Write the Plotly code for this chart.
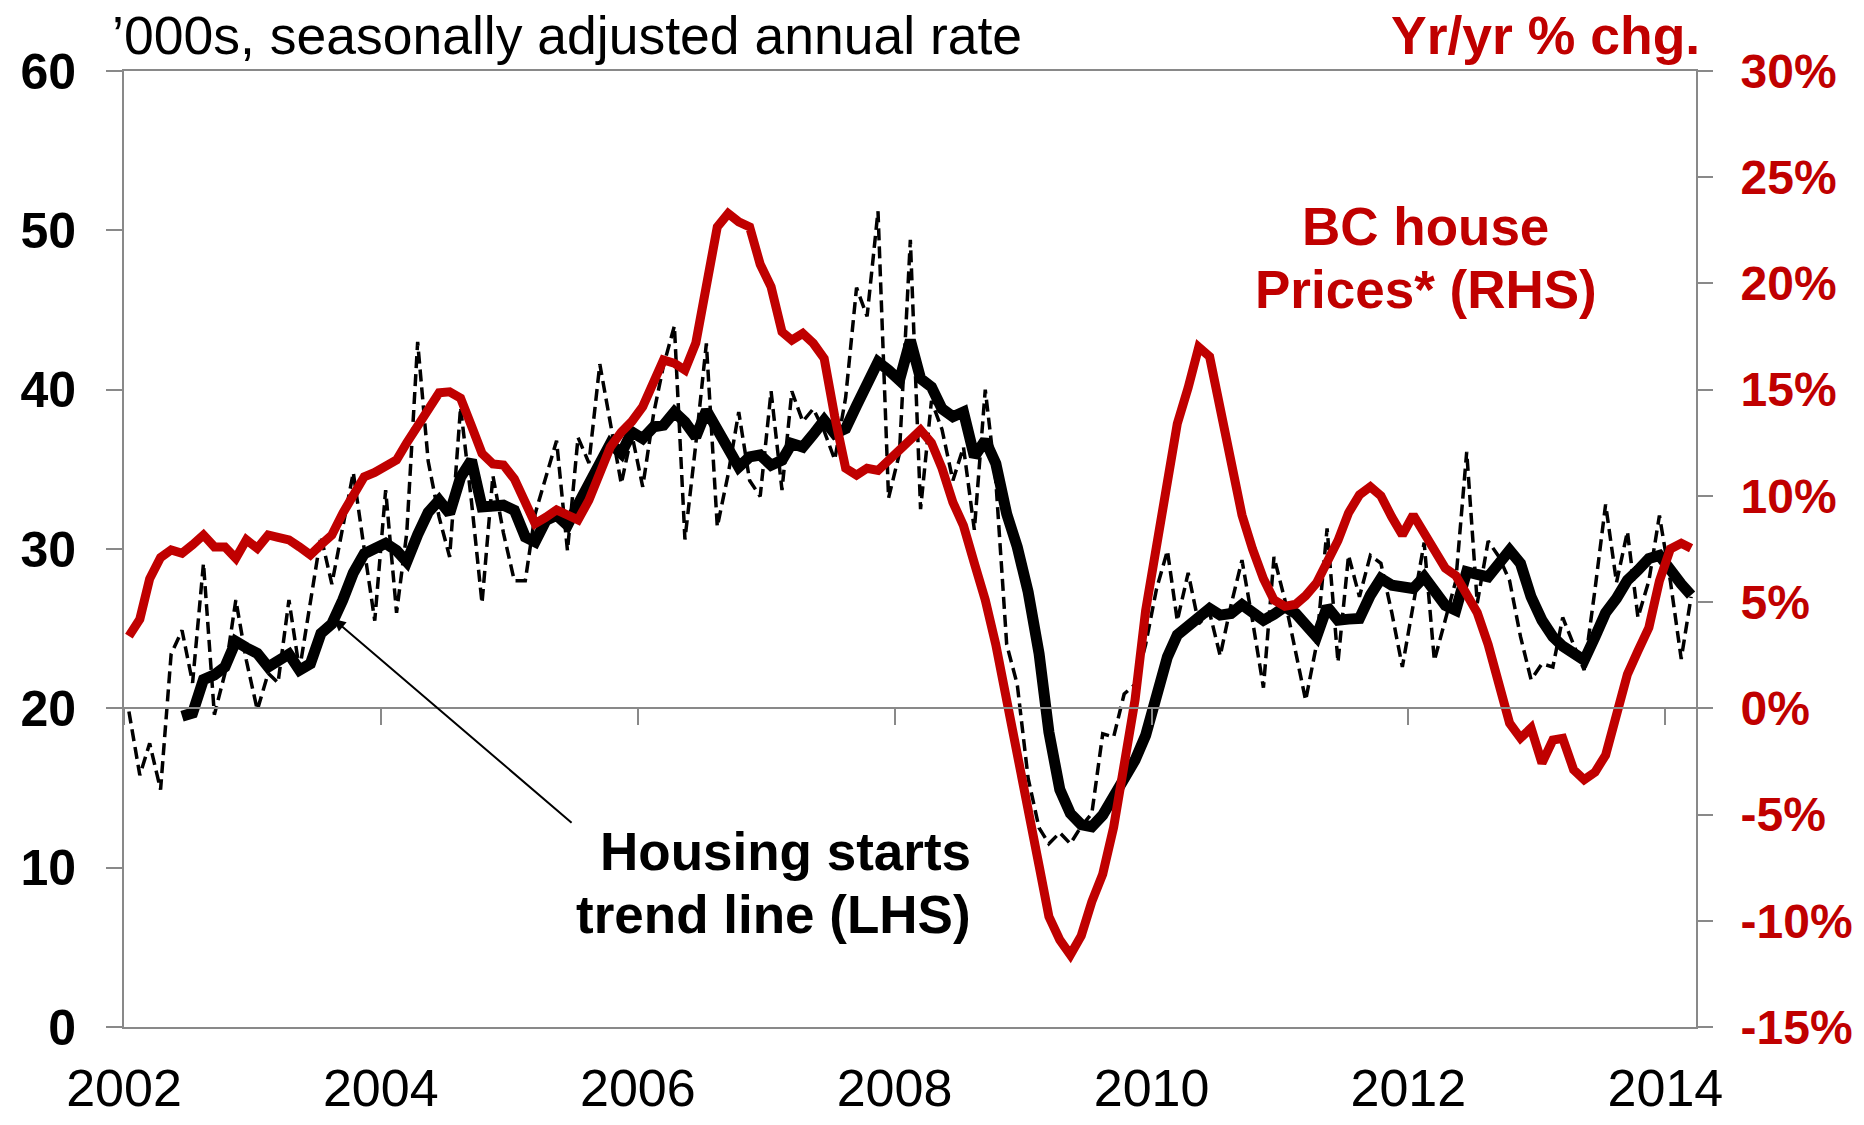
import pandas as pd
import plotly.graph_objects as go

# ---- data (monthly, Jan 2002 - Mar 2014) ----
months = pd.date_range("2002-01-01", periods=147, freq="MS") + pd.Timedelta(days=14)

starts = [
    19.8, 15.8, 17.8, 14.9, 23.4, 24.9, 21.6, 29.1, 19.6, 22.2,
    26.8, 23.0, 19.9, 22.2, 21.6, 26.8, 22.4, 26.5, 30.8, 27.8,
    31.3, 34.8, 30.0, 25.5, 33.7, 26.0, 31.0, 43.0, 35.5, 32.0,
    29.5, 38.9, 33.0, 26.6, 34.6, 31.0, 28.0, 28.0, 32.2, 34.5,
    36.8, 29.9, 37.0, 35.4, 41.6, 37.9, 34.1, 37.2, 33.9, 38.5,
    41.5, 44.0, 30.6, 36.6, 42.9, 31.4, 34.7, 38.6, 34.3, 33.3,
    39.9, 33.7, 39.9, 38.0, 38.8, 37.4, 35.6, 39.5, 46.4, 44.6,
    51.2, 33.2, 36.0, 49.4, 32.5, 39.3, 37.5, 34.3, 36.4, 31.2,
    40.0, 34.3, 24.0, 21.5, 15.6, 12.5, 11.5, 12.2, 11.5, 12.6,
    13.4, 18.4, 18.2, 20.9, 21.5, 24.0, 27.5, 29.9, 25.5, 28.5,
    25.3, 26.0, 23.3, 26.5, 29.3, 25.5, 21.3, 29.5, 26.8, 23.5,
    20.5, 24.0, 31.3, 22.9, 29.6, 27.0, 29.6, 29.1, 26.0, 22.6,
    26.5, 30.4, 23.0, 25.5, 28.0, 36.1, 26.6, 30.5, 29.5, 28.0,
    24.5, 21.8, 22.8, 22.6, 25.7, 24.0, 22.4, 27.5, 32.8, 27.9,
    31.1, 25.7, 28.0, 32.1, 28.0, 23.1, 27.0,
]

trend = [None] * 5 + [
    19.5, 19.7, 21.8, 22.1, 22.6,
    24.2, 23.8, 23.45, 22.6, 22.9, 23.4, 22.4, 22.8, 24.7, 25.3,
    26.8, 28.5, 29.7, 30.0, 30.35, 29.9, 29.2, 30.9, 32.3, 33.06,
    32.23, 34.5, 35.57, 32.64, 32.7, 32.75, 32.43, 30.76, 30.45, 31.8,
    32.12, 31.49, 32.8, 34.2, 35.36, 36.62, 35.99, 37.35, 36.93, 37.66,
    37.77, 38.6, 37.97, 37.03, 38.7, 37.56, 36.4, 35.15, 35.78, 35.9,
    35.26, 35.57, 36.62, 36.4, 37.2, 38.08, 37.24, 37.56, 39.0, 40.4,
    41.74, 41.22, 40.59, 43.1, 40.7, 40.17, 38.8, 38.3, 38.6, 35.8,
    36.83, 35.36, 32.2, 30.13, 27.3, 23.44, 18.5, 14.9, 13.4, 12.7,
    12.57, 13.3, 14.5, 15.7, 16.75, 18.3, 20.9, 23.23, 24.6, 25.2,
    25.7, 26.27, 25.85, 25.95, 26.5, 26.0, 25.53, 25.9, 26.37, 25.95,
    25.2, 24.49, 26.37, 25.53, 25.6, 25.64, 27.1, 28.15, 27.73, 27.6,
    27.52, 28.25, 27.4, 26.47, 26.16, 28.57, 28.4, 28.25, 29.1, 29.92,
    29.09, 27.0, 25.53, 24.49, 23.9, 23.34, 23.02, 24.49, 26.0, 26.9,
    28.04, 28.67, 29.4, 29.6, 28.57, 27.8, 27.1,
]

prices = [
    3.4, 4.2, 6.1, 7.1, 7.46, 7.3, 7.7, 8.16, 7.6, 7.6,
    7.06, 7.93, 7.53, 8.16, 8.05, 7.93, 7.6, 7.22, 7.7, 8.16,
    9.18, 10.0, 10.9, 11.1, 11.37, 11.69, 12.5, 13.3, 14.2, 14.85,
    14.9, 14.6, 13.3, 12.0, 11.5, 11.45, 10.8, 9.7, 8.7, 9.0,
    9.34, 9.1, 8.87, 9.8, 11.0, 12.3, 13.0, 13.5, 14.2, 15.3,
    16.4, 16.24, 15.92, 17.2, 19.8, 22.66, 23.29, 22.9, 22.66, 20.9,
    19.84, 17.72, 17.33, 17.65, 17.18, 16.47, 13.73, 11.3, 10.98, 11.3,
    11.2, 11.69, 12.2, 12.7, 13.1, 12.5, 11.3, 9.7, 8.6, 6.83,
    5.1, 3.0, 0.5, -2.0, -4.4, -7.4, -9.8, -10.9, -11.6, -10.7,
    -9.1, -7.8, -5.6, -2.8, 0.4, 4.6, 7.5, 10.8, 13.4, 15.1,
    17.0, 16.55, 14.2, 11.8, 9.1, 7.5, 6.1, 5.1, 4.8, 4.9,
    5.3, 5.9, 6.8, 7.9, 9.2, 10.05, 10.43, 10.0, 9.0, 8.16,
    9.1, 8.3, 7.4, 6.6, 6.25, 5.3, 4.5, 3.0, 1.2, -0.7,
    -1.4, -0.93, -2.58, -1.49, -1.41, -2.89, -3.36, -3.0, -2.2, -0.4,
    1.6, 2.7, 3.8, 6.0, 7.5, 7.77, 7.53,
]

left_ticks = [0, 10, 20, 30, 40, 50, 60]
right_tickvals = [-15, -10, -5, 0, 5, 10, 15, 20, 25, 30]
right_ticktext = ["-15%", "-10%", "-5%", "0%", "5%", "10%", "15%", "20%", "25%", "30%"]

# ---- styling ----
FONT = "Liberation Sans, Arial, sans-serif"
GRAY = "#898989"
RED = "#C00000"
X_RANGE = ["2002-01-01", "2014-03-29"]

fig = go.Figure()
fig.add_trace(go.Scatter(
    x=months, y=starts, mode="lines", name="Housing starts",
    line=dict(color="black", width=3.5, dash="12px,6px"),
    xaxis="x", yaxis="y", hoverinfo="skip"))
fig.add_trace(go.Scatter(
    x=months, y=trend, mode="lines", name="Trend",
    line=dict(color="black", width=11),
    xaxis="x", yaxis="y", hoverinfo="skip"))
fig.add_trace(go.Scatter(
    x=months, y=prices, mode="lines", name="BC house prices",
    line=dict(color=RED, width=9),
    xaxis="x2", yaxis="y2", hoverinfo="skip"))

fig.update_layout(
    width=1864, height=1125, autosize=False,
    margin=dict(l=124, r=168, t=71, b=98, pad=0, autoexpand=False),
    paper_bgcolor="white", plot_bgcolor="white",
    showlegend=False,
    font=dict(family=FONT, color="black"),
    xaxis=dict(
        type="date", range=X_RANGE, tick0="2002-01-01", dtick="M24",
        tickformat="%Y", ticks="", showline=True, mirror=True,
        linecolor=GRAY, linewidth=2, showgrid=False, zeroline=False,
        tickfont=dict(family=FONT, size=52, color="black"),
        ticklabelstandoff=15, automargin=False,
    ),
    xaxis2=dict(
        type="date", range=X_RANGE, tick0="2002-01-01", dtick="M24",
        overlaying="x", anchor="free", position=1/3,
        showticklabels=False, ticks="outside", ticklen=16, tickwidth=2,
        tickcolor=GRAY, showline=True, linecolor=GRAY, linewidth=2,
        showgrid=False, zeroline=False, automargin=False,
    ),
    yaxis=dict(
        range=[0, 60], tickvals=left_ticks, ticks="outside", ticklen=16,
        tickwidth=2, tickcolor=GRAY, showline=True, linecolor=GRAY,
        linewidth=2, showgrid=False, zeroline=False,
        tickfont=dict(family=FONT, size=50, color="black", weight="bold"),
        ticklabelstandoff=20, automargin=False,
    ),
    yaxis2=dict(
        range=[-15, 30], tickvals=right_tickvals, ticktext=right_ticktext,
        overlaying="y", side="right", anchor="x2",
        ticks="outside", ticklen=15, tickwidth=2, tickcolor=GRAY,
        showline=True, linecolor=GRAY, linewidth=2, showgrid=False,
        zeroline=False, automargin=False,
        tickfont=dict(family=FONT, size=48, color=RED, weight="bold"),
        ticklabelstandoff=18,
    ),
)

def txt(text, x, y, xanchor, size, color, bold):
    fig.add_annotation(
        text=text, x=x, y=y, xref="paper", yref="paper",
        xanchor=xanchor, yanchor="middle", showarrow=False,
        font=dict(family=FONT, size=size, color=color,
                  weight="bold" if bold else "normal"))

txt("\u2019000s, seasonally adjusted annual rate", -0.009, 1.0376, "left", 53.5, "black", False)
txt("Yr/yr % chg.", 1.0038, 1.0376, "right", 53.5, RED, True)
txt("BC house", 0.8282, 0.8373, "center", 53, RED, True)
txt("Prices* (RHS)", 0.8282, 0.7711, "center", 53, RED, True)
txt("Housing starts", 0.5400, 0.1836, "right", 53, "black", True)
txt("trend line (LHS)", 0.5400, 0.1177, "right", 53, "black", True)

# arrow from label to the trend line
fig.add_annotation(
    x="2003-08-20", y=25.6, ax="2005-07-01", ay=12.74,
    xref="x", yref="y", axref="x", ayref="y",
    text="", showarrow=True, arrowhead=2, arrowsize=1.2,
    arrowwidth=2, arrowcolor="black")

fig.write_html("out.html", config={"displayModeBar": False},
               post_script="document.body.style.margin='0';")
